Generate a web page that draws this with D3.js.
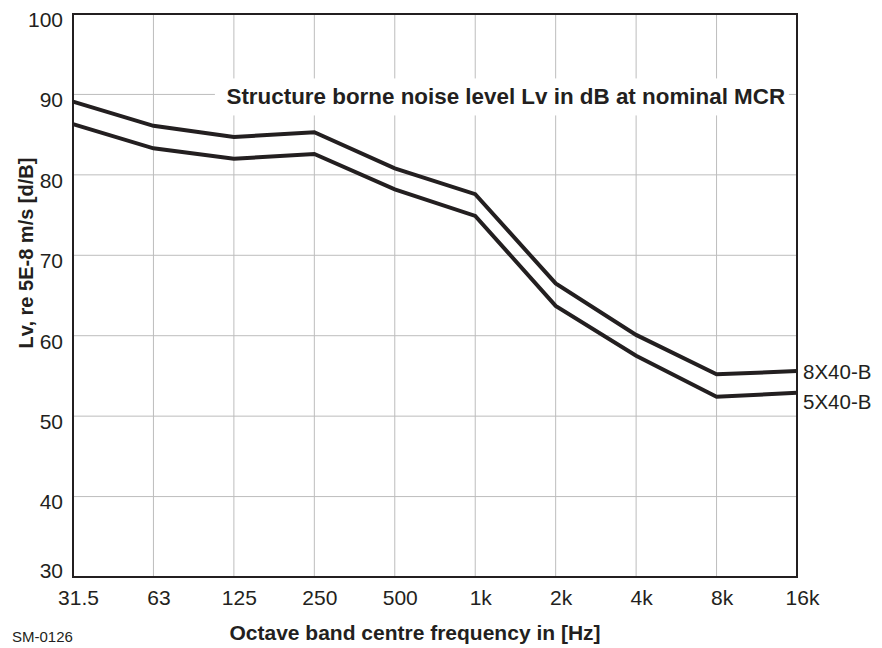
<!DOCTYPE html>
<html>
<head>
<meta charset="utf-8">
<script src="https://cdn.jsdelivr.net/npm/d3@7"></script>
<style>
body { margin: 0; background: #fff; }
text { font-family: "Liberation Sans", Arial, sans-serif; fill: #231f20; }
</style>
</head>
<body>
<script>
var freqs = ["31.5", "63", "125", "250", "500", "1k", "2k", "4k", "8k", "16k"];
var yTicks = [30, 40, 50, 60, 70, 80, 90, 100];
var lv8 = [89.1, 86.1, 84.7, 85.3, 80.8, 77.6, 66.5, 60.1, 55.2, 55.6];
var lv5 = [86.3, 83.3, 82.0, 82.6, 78.2, 74.9, 63.7, 57.5, 52.4, 52.9];
var seriesNames = ["8X40-B", "5X40-B"];

var width = 882, height = 648;
var margin = {top: 14, right: 85, bottom: 71, left: 73};
var w = width - margin.left - margin.right;
var h = height - margin.top - margin.bottom;

var svg = d3.select("body").append("svg")
	.attr("width", width)
	.attr("height", height);

var g = svg.append("g")
	.attr("transform", "translate(" + margin.left + "," + margin.top + ")");

var x = d3.scalePoint()
	.domain(freqs)
	.range([0, w]);

var y = d3.scaleLinear()
	.domain([30, 100])
	.range([h, 0]);

// grid
g.selectAll(".vgrid")
	.data(freqs)
	.enter().append("line")
	.attr("x1", (d) => x(d)).attr("x2", (d) => x(d))
	.attr("y1", 0).attr("y2", h)
	.attr("stroke", "#bdbdbd").attr("stroke-width", 1);

g.selectAll(".hgrid")
	.data(yTicks)
	.enter().append("line")
	.attr("x1", 0).attr("x2", w)
	.attr("y1", (d) => y(d)).attr("y2", (d) => y(d))
	.attr("stroke", "#bdbdbd").attr("stroke-width", 1);

// title box (hides grid behind it)
g.append("rect")
	.attr("x", x("125") - 19)
	.attr("y", y(90) - 16)
	.attr("width", 574)
	.attr("height", 37)
	.attr("fill", "#fff");
g.append("text")
	.attr("x", x("500") + 111)
	.attr("y", y(90) + 10)
	.attr("text-anchor", "middle")
	.attr("font-size", "22.4px")
	.attr("font-weight", "bold")
	.text("Structure borne noise level Lv in dB at nominal MCR");

// frame
g.append("rect")
	.attr("x", 0).attr("y", 0)
	.attr("width", w).attr("height", h)
	.attr("fill", "none")
	.attr("stroke", "#231f20")
	.attr("stroke-width", 2);

// lines
var line = d3.line()
	.x((d, i) => x(freqs[i]))
	.y((d) => y(d));

[lv8, lv5].forEach((vals, k) => {
	g.append("path")
		.datum(vals)
		.attr("d", line)
		.attr("fill", "none")
		.attr("stroke", "#231f20")
		.attr("stroke-width", 4)
		.attr("stroke-linejoin", "miter");
	g.append("text")
		.attr("x", w + 6)
		.attr("y", y(vals[vals.length - 1]) + (k == 0 ? 8 : 16))
		.attr("font-size", "20.5px")
		.text(seriesNames[k]);
});

// axes
var leftAxis = d3.axisLeft(y).tickValues(yTicks).tickSize(0).tickPadding(10);
var ga = g.append("g").call(leftAxis);
ga.select(".domain").remove();
ga.selectAll("text")
	.attr("font-size", "21px")
	.attr("font-family", "Liberation Sans, Arial, sans-serif")
	.attr("fill", "#231f20")
	.attr("dy", (d) => d == 30 ? "0" : "0.59em");

var bottomAxis = d3.axisBottom(x).tickSize(0).tickPadding(0);
var gb = g.append("g").attr("transform", "translate(0," + h + ")").call(bottomAxis);
gb.select(".domain").remove();
gb.selectAll("text")
	.attr("font-size", "21px")
	.attr("font-family", "Liberation Sans, Arial, sans-serif")
	.attr("fill", "#231f20")
	.attr("x", 5)
	.attr("y", 28)
	.attr("dy", "0");

// axis labels
svg.append("text")
	.attr("x", 415)
	.attr("y", 640)
	.attr("text-anchor", "middle")
	.attr("font-size", "21px")
	.attr("font-weight", "bold")
	.text("Octave band centre frequency in [Hz]");

svg.append("text")
	.attr("transform", "translate(33,253) rotate(-90)")
	.attr("text-anchor", "middle")
	.attr("font-size", "20px")
	.attr("font-weight", "bold")
	.text("Lv, re 5E-8 m/s [d/B]");

svg.append("text")
	.attr("x", 12)
	.attr("y", 642)
	.attr("font-size", "15px")
	.text("SM-0126");
</script>
</body>
</html>
